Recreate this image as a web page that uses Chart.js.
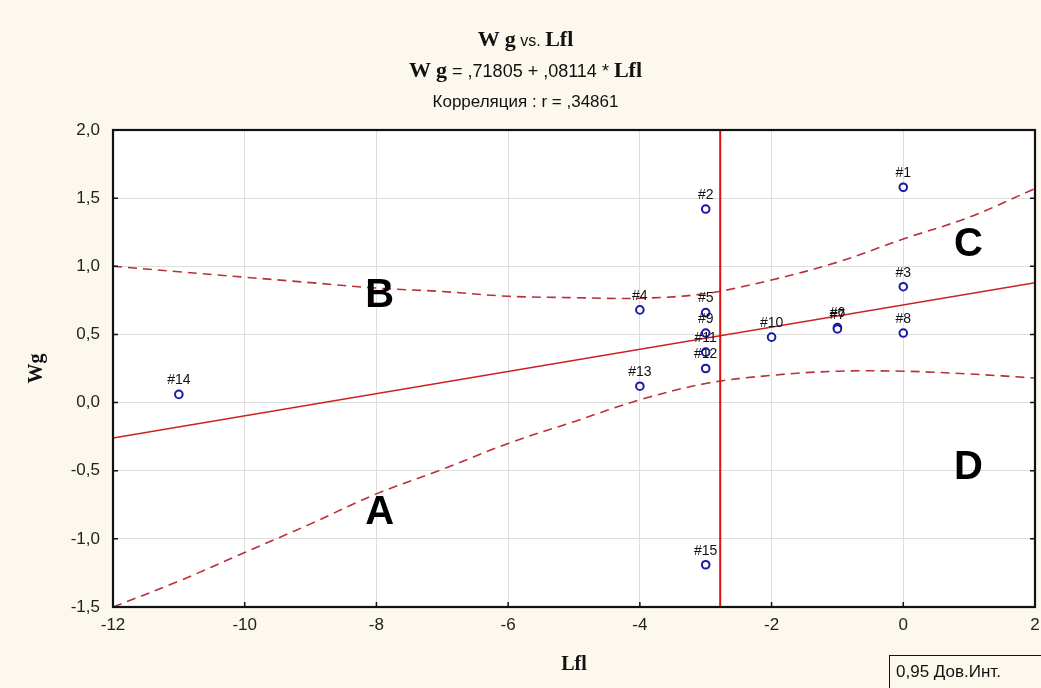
<!DOCTYPE html>
<html>
<head>
<meta charset="utf-8">
<script src="https://cdn.jsdelivr.net/npm/chart.js@4"></script>
<style>
  html,body{margin:0;padding:0;background:#fcf8ee;overflow:hidden;}
  #wrap{position:relative;width:1041px;height:688px;}
  #c{position:absolute;left:0;top:0;}
  .t{position:absolute;left:0;width:1041px;text-align:center;color:#111;white-space:nowrap;}
  .serif{font-family:"Liberation Serif","DejaVu Serif",serif;font-weight:bold;}
  .sans{font-family:"Liberation Sans",Arial,sans-serif;}
  #legbox{position:absolute;left:889px;top:655px;width:170px;height:36px;border:1.5px solid #111;
    font-family:"Liberation Sans",Arial,sans-serif;font-size:17px;color:#111;box-sizing:border-box;padding:6px 0 0 6px;}
</style>
</head>
<body>
<div id="wrap">
  <canvas id="c" width="1041" height="688"></canvas>
  <div class="t" style="top:26px;margin-left:5px"><span class="serif" style="font-size:22px">W g</span><span class="sans" style="font-size:16px"> vs. </span><span class="serif" style="font-size:22px">Lfl</span></div>
  <div class="t" style="top:57px;margin-left:5px"><span class="serif" style="font-size:22px">W g</span><span class="sans" style="font-size:18px"> = ,71805 + ,08114 * </span><span class="serif" style="font-size:22px">Lfl</span></div>
  <div class="t sans" style="top:92px;font-size:17px;margin-left:5px">Корреляция : r = ,34861</div>
  <div id="legbox">0,95 Дов.Инт.</div>
</div>
<script>
// ---- data ----
const pointNames = ['#1','#2','#3','#4','#5','#6','#7','#8','#9','#10','#11','#12','#13','#14','#15'];
const lflValues  = [0, -3, 0, -4, -3, -1, -1, 0, -3, -2, -3, -3, -4, -11, -3];
const wgValues   = [1.58, 1.42, 0.85, 0.68, 0.66, 0.55, 0.54, 0.51, 0.51, 0.48, 0.37, 0.25, 0.12, 0.06, -1.19];

const bandX     = [-12, -11, -10, -9, -8, -7, -6, -5, -4, -3, -2, -1, 0, 1, 2];
const bandUpper = [1.00, 0.96, 0.92, 0.88, 0.84, 0.815, 0.78, 0.77, 0.765, 0.80, 0.90, 1.03, 1.20, 1.36, 1.57];
const bandLower = [-1.50, -1.31, -1.10, -0.89, -0.67, -0.49, -0.30, -0.14, 0.02, 0.14, 0.20, 0.23, 0.23, 0.21, 0.18];

const regX = [-12, 2];
const regY = [-0.26, 0.88];

const meanLineX = [-2.78, -2.78];
const meanLineY = [-1.5, 2.0];

const zoneLetters = ['A', 'B', 'C', 'D'];
const zoneX = [-7.95, -7.95, 0.99, 0.99];
const zoneY = [-0.81, 0.78, 1.16, -0.48];

const xMin = -12, xMax = 2, xStep = 2;
const yMin = -1.5, yMax = 2.0, yStep = 0.5;

// ---- build ----
const zip = (xs, ys) => xs.map((x, i) => ({x, y: ys[i]}));

const plotBg = {
  id: 'plotBg',
  beforeDraw(chart) {
    const {ctx, chartArea: a} = chart;
    ctx.save();
    ctx.fillStyle = '#ffffff';
    ctx.fillRect(a.left, a.top, a.right - a.left, a.bottom - a.top);
    ctx.restore();
  }
};

const frameTicks = {
  id: 'frameTicks',
  afterDraw(chart) {
    const {ctx, chartArea: a, scales} = chart;
    ctx.save();
    ctx.strokeStyle = '#111';
    ctx.lineWidth = 1.5;
    const L = 5;
    ctx.beginPath();
    for (let v = yMin; v <= yMax + 1e-9; v += yStep) {
      const py = scales.y.getPixelForValue(v);
      ctx.moveTo(a.left, py); ctx.lineTo(a.left + L, py);
      ctx.moveTo(a.right, py); ctx.lineTo(a.right - L, py);
    }
    for (let v = xMin; v <= xMax + 1e-9; v += xStep) {
      const px = scales.x.getPixelForValue(v);
      ctx.moveTo(px, a.bottom); ctx.lineTo(px, a.bottom - L);
    }
    ctx.stroke();
    ctx.lineWidth = 2.2;
    ctx.strokeRect(a.left, a.top, a.right - a.left, a.bottom - a.top);
    ctx.restore();
  }
};

const textMarks = {
  id: 'textMarks',
  afterDatasetsDraw(chart) {
    const {ctx, scales} = chart;
    ctx.save();
    const meta = chart.getDatasetMeta(0);
    ctx.font = '14px "Liberation Sans", Arial, sans-serif';
    ctx.fillStyle = '#111';
    ctx.textAlign = 'center';
    ctx.textBaseline = 'middle';
    meta.data.forEach((el, i) => {
      ctx.fillText(pointNames[i], el.x, el.y - 14);
    });
    ctx.font = 'bold 40px "Liberation Sans", Arial, sans-serif';
    ctx.fillStyle = '#000';
    zoneLetters.forEach((s, i) => {
      ctx.fillText(s, scales.x.getPixelForValue(zoneX[i]), scales.y.getPixelForValue(zoneY[i]));
    });
    ctx.restore();
  }
};

const fmtY = v => (Math.abs(v) < 1e-9 ? 0 : v).toFixed(1).replace('.', ',');

new Chart(document.getElementById('c'), {
  type: 'scatter',
  data: {
    datasets: [
      {
        label: 'Wg',
        data: zip(lflValues, wgValues),
        pointStyle: 'circle',
        pointRadius: 3.8,
        pointBorderWidth: 2,
        pointBorderColor: '#1a1aa6',
        pointBackgroundColor: '#ffffff',
        showLine: false
      },
      {
        label: 'mean',
        data: zip(meanLineX, meanLineY),
        showLine: true,
        borderColor: '#e01010',
        borderWidth: 2,
        pointRadius: 0
      },
      {
        label: 'regression',
        data: zip(regX, regY),
        showLine: true,
        borderColor: '#cc2020',
        borderWidth: 1.5,
        pointRadius: 0
      },
      {
        label: 'upper',
        data: zip(bandX, bandUpper),
        showLine: true,
        borderColor: '#b83038',
        borderWidth: 1.6,
        borderDash: [9, 6],
        tension: 0.35,
        pointRadius: 0
      },
      {
        label: 'lower',
        data: zip(bandX, bandLower),
        showLine: true,
        borderColor: '#b83038',
        borderWidth: 1.6,
        borderDash: [9, 6],
        tension: 0.35,
        pointRadius: 0
      }
    ]
  },
  options: {
    responsive: false,
    animation: false,
    events: [],
    layout: {padding: {top: 130, right: 6, bottom: 0, left: 0}},
    plugins: {
      legend: {display: false},
      tooltip: {enabled: false},
      title: {display: false}
    },
    scales: {
      x: {
        type: 'linear',
        min: xMin, max: xMax,
        afterFit(s) { s.height = 81; s.paddingRight = 0; s.paddingLeft = 0; },
        afterBuildTicks(s) {
          const t = [];
          for (let v = xMin; v <= xMax + 1e-9; v += xStep) t.push({value: v});
          s.ticks = t;
        },
        ticks: {
          font: {family: '"Liberation Sans", Arial, sans-serif', size: 17},
          color: '#222',
          padding: 8,
          maxRotation: 0,
          callback: v => String(v)
        },
        grid: {color: '#dedede', lineWidth: 1, drawTicks: false},
        border: {display: false},
        title: {
          display: true,
          text: 'Lfl',
          font: {family: '"Liberation Serif", "DejaVu Serif", serif', size: 20, weight: 'bold'},
          color: '#111',
          padding: {top: 4, bottom: 11}
        }
      },
      y: {
        type: 'linear',
        min: yMin, max: yMax,
        afterFit(s) { s.width = 113; s.paddingTop = 0; s.paddingBottom = 0; },
        afterBuildTicks(s) {
          const t = [];
          for (let v = yMin; v <= yMax + 1e-9; v += yStep) t.push({value: Math.round(v * 10) / 10});
          s.ticks = t;
        },
        ticks: {
          font: {family: '"Liberation Sans", Arial, sans-serif', size: 17},
          color: '#222',
          padding: 13,
          callback: v => fmtY(v)
        },
        grid: {color: '#dedede', lineWidth: 1, drawTicks: false},
        border: {display: false},
        title: {
          display: true,
          text: 'Wg',
          font: {family: '"Liberation Serif", "DejaVu Serif", serif', size: 20, weight: 'bold'},
          color: '#111',
          padding: {top: 25, bottom: 4}
        }
      }
    }
  },
  plugins: [plotBg, frameTicks, textMarks]
});
</script>
</body>
</html>
